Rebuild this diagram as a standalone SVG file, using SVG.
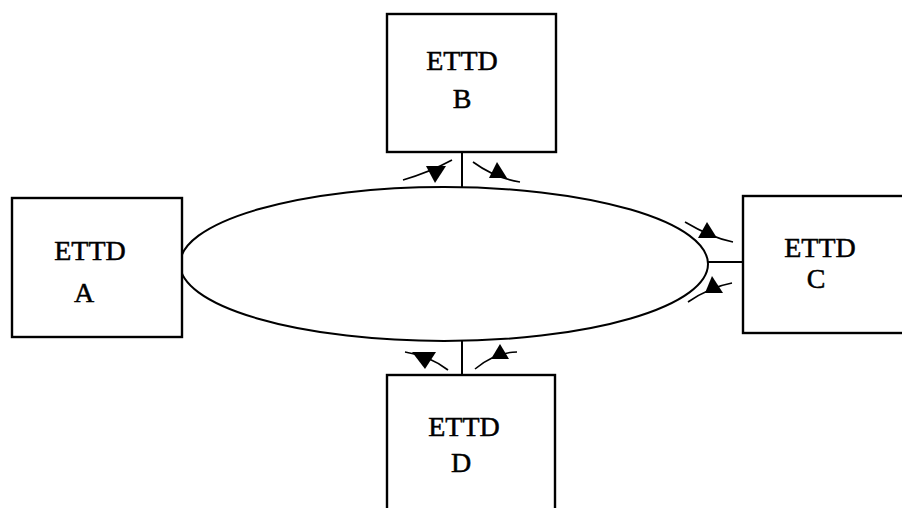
<svg xmlns="http://www.w3.org/2000/svg" width="902" height="508" viewBox="0 0 902 508">
<style>
.box{fill:#fff;stroke:#000;stroke-width:2.4}
.lbl{font-family:"Liberation Serif","Times New Roman",serif;font-size:28px;fill:#000;stroke:#000;stroke-width:0.5;text-anchor:middle}
.ln{fill:none;stroke:#000;stroke-width:2}
.tk{fill:none;stroke:#000;stroke-width:1.6}
.tri{fill:#000;stroke:none}
</style>
<rect width="902" height="508" fill="#fff"/>
<g id="connectors">
<ellipse class="ln" cx="444" cy="264" rx="264" ry="77"/>
<line class="ln" x1="462" y1="152" x2="462" y2="187"/>
<line class="ln" x1="462" y1="341" x2="462" y2="375"/>
<line class="ln" x1="708" y1="262" x2="743" y2="262"/>
<path class="ln" d="M181 254 Q178 262 181 272"/>
</g>
<g id="arrows">
<path class="tk" d="M403 180 Q430 172 452 160"/>
<polygon class="tri" points="426,166 446,166 435,183"/>
<path class="tk" d="M473 162 Q495 178 520 182"/>
<polygon class="tri" points="497,162 489,178 507,178"/>
<path class="tk" d="M685 222 Q712 238 733 242"/>
<polygon class="tri" points="707,222 698,238 717,238"/>
<path class="tk" d="M688 302 Q710 287 732 283"/>
<polygon class="tri" points="712,276 705,293 723,293"/>
<path class="tk" d="M405 352 Q430 356 448 370"/>
<polygon class="tri" points="412,352 436,352 425,369"/>
<path class="tk" d="M475 369 Q495 352 517 352"/>
<polygon class="tri" points="500,344 491,359 509,359"/>
</g>
<g id="nodeA">
<rect class="box" x="12" y="198" width="170" height="139"/>
<text class="lbl" x="90" y="260">ETTD</text>
<text class="lbl" x="84" y="302">A</text>
</g>
<g id="nodeB">
<rect class="box" x="387" y="14" width="169" height="138"/>
<text class="lbl" x="462" y="70">ETTD</text>
<text class="lbl" x="462" y="108">B</text>
</g>
<g id="nodeC">
<rect class="box" x="743" y="196" width="170" height="137"/>
<text class="lbl" x="820" y="257">ETTD</text>
<text class="lbl" x="816" y="288">C</text>
</g>
<g id="nodeD">
<rect class="box" x="387" y="375" width="168" height="140"/>
<text class="lbl" x="464" y="436">ETTD</text>
<text class="lbl" x="461" y="472">D</text>
</g>
</svg>
